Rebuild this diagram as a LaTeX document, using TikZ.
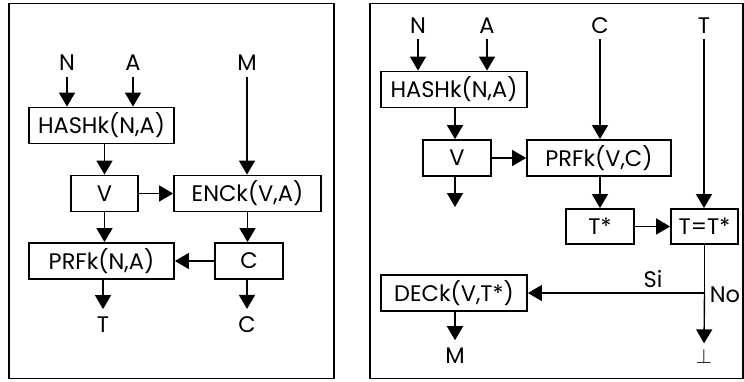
\documentclass[tikz,border=0pt]{standalone}
\usepackage{fontspec}
\setmainfont{Poppins}
\usetikzlibrary{arrows.meta}
\tikzset{
  box/.style={draw, line width=1.8pt, inner sep=0pt, minimum height=36pt, font=\fontsize{22.5}{26}\selectfont},
  lbl/.style={inner sep=0pt, anchor=base, font=\fontsize{22.5}{26}\selectfont},
  arr/.style={line width=1.4pt, -{Triangle[width=16pt,length=14pt]}},
  ln/.style={line width=1.4pt},
  frame/.style={draw, line width=1.4pt}
}
\begin{document}
\begin{tikzpicture}[x=1pt,y=-1pt]
\useasboundingbox (0,0) rectangle (744,381);
% frames
\draw[frame] (9,3.5) rectangle (334,378.5);
\draw[frame] (370,3.5) rectangle (743,378.5);
% ---------- left ----------
\node[box, minimum width=145pt] (hash) at (101.5,125.5) {HASHk(N,A)};
\node[box, minimum width=67pt] (vbox) at (104.5,193.5) {V};
\node[box, minimum width=147pt] (enc) at (247.5,193.5) {ENCk(V,A)};
\node[box, minimum width=145pt] (prf) at (101.5,261) {PRFk(N,A)};
\node[box, minimum width=68pt] (cbox) at (249,261) {C};
\node[lbl] (N) at (67,70) {N};
\node[lbl] (A) at (133,70) {A};
\node[lbl] (M) at (247,70) {M};
\node[lbl] (Tout) at (103,332) {T};
\node[lbl] (Cout) at (247,332) {C};
\draw[arr, shorten <=7pt] (N.south) -- (N.south |- hash.north);
\draw[arr, shorten <=7pt] (A.south) -- (A.south |- hash.north);
\draw[arr, shorten <=7pt] (M.south) -- (M.south |- enc.north);
\draw[arr] (hash.south -| vbox) -- (vbox.north);
\draw[arr] (vbox.east) -- (enc.west);
\draw[arr] (vbox.south) -- (vbox.south |- prf.north);
\draw[arr] (enc.south) -- (enc.south |- cbox.north);
\draw[arr] (cbox.west) -- (prf.east);
\draw[arr, shorten >=7pt] (prf.south -| Tout) -- (Tout.north);
\draw[arr, shorten >=7pt] (cbox.south -| Cout) -- (Cout.north);
% ---------- right ----------
\node[box, minimum width=146pt] (hash2) at (454,89.5) {HASHk(N,A)};
\node[box, minimum width=68pt] (v2) at (457,158) {V};
\node[box, minimum width=144pt] (prf2) at (599,158) {PRFk(V,C)};
\node[box, minimum width=68pt, minimum height=35pt] (ts) at (600,226.5) {T*};
\node[box, minimum width=67pt, minimum height=35pt] (teq) at (704.5,226.5) {T=T*};
\node[box, minimum width=146pt] (dec) at (454,293) {DECk(V,T*)};
\node[lbl] (N2) at (418,33) {N};
\node[lbl] (A2) at (487,33) {A};
\node[lbl] (C2) at (600,33) {C};
\node[lbl] (T2) at (704,33) {T};
\node[lbl] (M2) at (455,363) {M};
\node[lbl, font=\fontsize{20}{24}\selectfont] (bot) at (704,363) {$\perp$};
\node[lbl] (si) at (653,287) {Si};
\node[lbl] (no) at (725,302) {No};
\coordinate (vend) at (455,207);
\coordinate (br) at (teq.south |- dec.east);
\draw[arr, shorten <=6pt] (N2.south) -- (N2.south |- hash2.north);
\draw[arr, shorten <=6pt] (A2.south) -- (A2.south |- hash2.north);
\draw[arr, shorten <=6pt] (C2.south) -- (C2.south |- prf2.north);
\draw[arr, shorten <=6pt] (T2.south) -- (T2.south |- teq.north);
\draw[arr] (hash2.south -| vend) -- (vend |- v2.north);
\draw[arr] (v2.east) -- (prf2.west);
\draw[arr] (v2.south -| vend) -- (vend);
\draw[arr] (prf2.south -| ts) -- (ts.north);
\draw[arr] (ts.east) -- (teq.west);
\draw[ln] (teq.south) -- (br);
\draw[arr] (br) -- (dec.east);
\draw[arr, shorten >=5pt] (br) -- (bot.north);
\draw[arr, shorten >=7pt] (dec.south -| M2) -- (M2.north);
\end{tikzpicture}
\end{document}
